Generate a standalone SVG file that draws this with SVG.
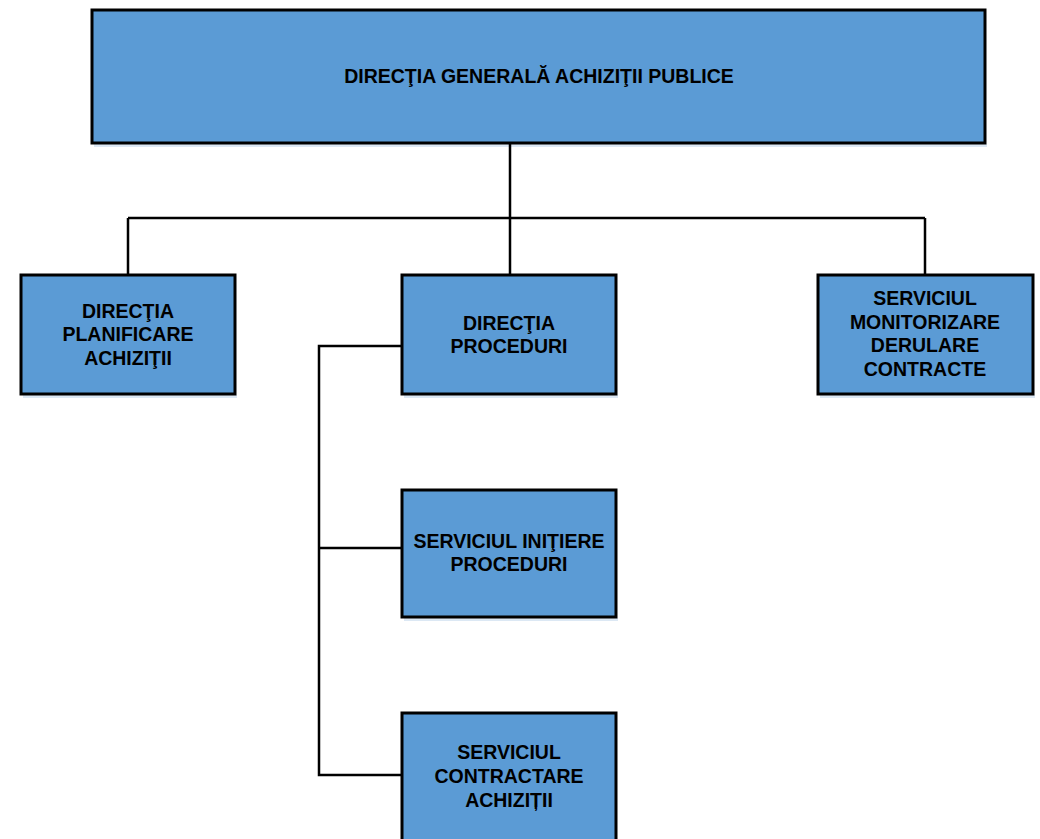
<svg xmlns="http://www.w3.org/2000/svg" width="1040" height="839" viewBox="0 0 1040 839">
  <style>
    .box { fill: #5B9BD5; stroke: #000000; stroke-width: 3; }
    .shadow { fill: #DCE8F4; }
    .lbl { font-family: "Liberation Sans", Arial, sans-serif; font-weight: bold; font-size: 19.5px; fill: #000000; text-anchor: middle; dominant-baseline: central; }
    .conn { fill: none; stroke: #000000; stroke-width: 2.5; }
  </style>
  <rect width="1040" height="839" fill="#FFFFFF"/>

  <g id="node-dgap">
    <rect class="shadow" x="94" y="144" width="893" height="3"/>
    <rect class="box" x="92" y="10" width="893" height="133"/>
    <text class="lbl" x="539" y="76">DIRECŢIA GENERALĂ ACHIZIŢII PUBLICE</text>
  </g>

  <g id="node-planificare">
    <rect class="shadow" x="23" y="395" width="214" height="3"/>
    <rect class="box" x="21" y="275" width="214" height="119"/>
    <text class="lbl" x="128" y="311">DIRECŢIA</text>
    <text class="lbl" x="128" y="334">PLANIFICARE</text>
    <text class="lbl" x="128" y="358">ACHIZIŢII</text>
  </g>

  <g id="node-proceduri">
    <rect class="shadow" x="404" y="395" width="214" height="3"/>
    <rect class="box" x="402" y="275" width="214" height="119"/>
    <text class="lbl" x="509" y="323">DIRECŢIA</text>
    <text class="lbl" x="509" y="346">PROCEDURI</text>
  </g>

  <g id="node-monitorizare">
    <rect class="shadow" x="820" y="395" width="215" height="3"/>
    <rect class="box" x="818" y="275" width="215" height="119"/>
    <text class="lbl" x="925" y="298">SERVICIUL</text>
    <text class="lbl" x="925" y="322">MONITORIZARE</text>
    <text class="lbl" x="925" y="345">DERULARE</text>
    <text class="lbl" x="925" y="369">CONTRACTE</text>
  </g>

  <g id="node-initiere">
    <rect class="shadow" x="404" y="618" width="214" height="3"/>
    <rect class="box" x="402" y="490" width="214" height="127"/>
    <text class="lbl" x="509" y="541">SERVICIUL INIŢIERE</text>
    <text class="lbl" x="509" y="564">PROCEDURI</text>
  </g>

  <g id="node-contractare">
    <rect class="box" x="402" y="713" width="214" height="140"/>
    <text class="lbl" x="509" y="752">SERVICIUL</text>
    <text class="lbl" x="509" y="776">CONTRACTARE</text>
    <text class="lbl" x="509" y="800">ACHIZIȚII</text>
  </g>

  <!-- connectors drawn last so they meet the box outlines cleanly -->
  <g id="connectors">
    <path class="conn" d="M510 144 V218 M128 218 H925 M128 218 V274 M510 218 V274 M925 218 V274"/>
    <path class="conn" d="M401 346 H319 V775 H401 M319 548 H401"/>
  </g>
</svg>
